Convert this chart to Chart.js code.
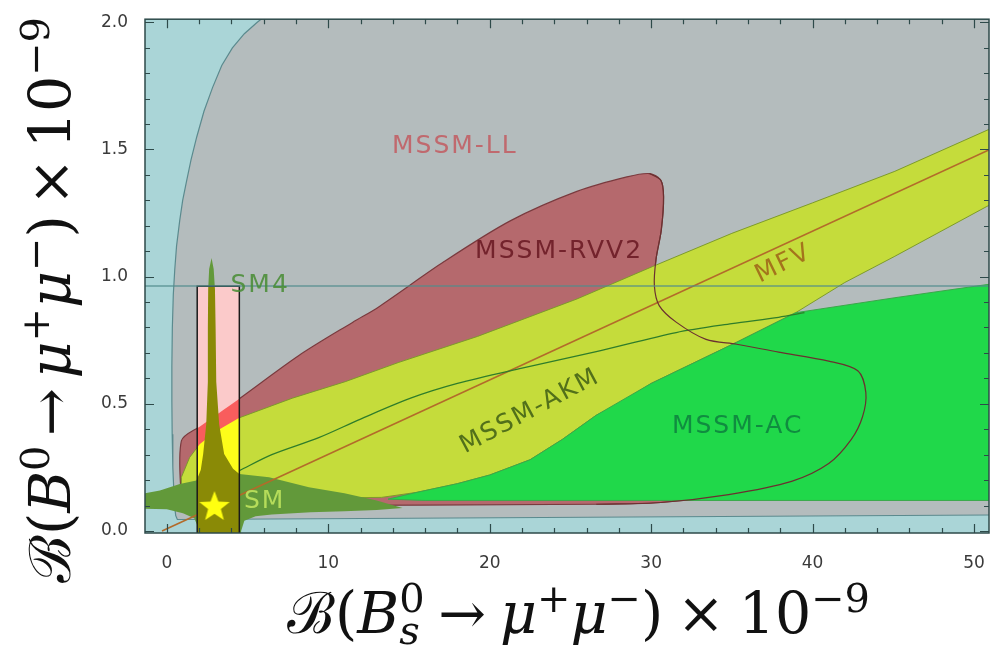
<!DOCTYPE html>
<html lang="en">
<head>
  <meta charset="UTF-8">
  <title>B0 vs Bs to mu mu</title>
  <script src="https://cdn.jsdelivr.net/npm/chart.js"></script>
  <style>
    body { margin: 0; background: #fff; }
  </style>
</head>
<body>
  <canvas id="chartCanvas" width="1006" height="648"></canvas>

  <script>
    // axis ticks
    const xMajorTicks = [0, 10, 20, 30, 40, 50];
    const yMajorTicks = [0, 0.5, 1.0, 1.5, 2.0];
    const xMinorStep = 2;
    const yMinorStep = 0.1;

    // MSSM-LL (grey) region: left boundary then closed off to the right
    const llRegion = [[7.6, 2.1], [5.6, 2.0], [4.8, 1.955], [4.06, 1.899], [3.4, 1.83], [2.83, 1.743],
      [2.3, 1.65], [1.85, 1.549], [1.5, 1.46], [1.23, 1.378], [0.98, 1.3], [0.8, 1.222], [0.6, 1.12],
      [0.49, 1.028], [0.4, 0.93], [0.34, 0.8], [0.31, 0.65], [0.31, 0.51], [0.33, 0.38], [0.37, 0.25],
      [0.43, 0.16], [0.49, 0.093], [0.55, 0.06], [0.65, 0.045], [15, 0.05], [51.5, 0.063], [51.5, 2.1], [7.6, 2.1]];

    // MSSM-RVV2 region
    const rvvUpper = [[0.9, 0.10], [0.9, 0.354], [2.03, 0.41], [4.49, 0.52], [8.18, 0.69], [11.5, 0.82],
      [13.1, 0.88], [17.2, 1.06], [21.3, 1.22], [25.4, 1.335], [28.5, 1.392], [29.9, 1.405]];
    const rvvTail = [[29.9, 1.405], [30.6, 1.379], [30.77, 1.314], [30.63, 1.184], [30.3, 1.067], [30.2, 0.964],
      [30.5, 0.886], [31.55, 0.821], [33.4, 0.753], [35.3, 0.734], [37.9, 0.703], [41.0, 0.668],
      [42.8, 0.63], [43.3, 0.545], [43.1, 0.45], [42.4, 0.36], [41.0, 0.265], [38.7, 0.195],
      [34.8, 0.143], [30.6, 0.112], [26.6, 0.105]];
    const rvvLower = [[14, 0.10], [5, 0.10], [0.9, 0.10]];

    // MSSM-AKM band
    const akmUpper = [[0.9, 0.18], [0.9, 0.211], [1.41, 0.289], [2.03, 0.341], [3, 0.39], [4.49, 0.445],
      [7.77, 0.522], [11.05, 0.587], [14.33, 0.662], [19.25, 0.765], [25.4, 0.912], [30.1, 1.04],
      [35, 1.17], [40, 1.29], [45.1, 1.414], [51.5, 1.595]];
    const akmLower = [[51.5, 1.297], [50.8, 1.276], [45.1, 1.08], [42, 0.977], [38.95, 0.858], [35.3, 0.742],
      [30, 0.58], [27.9, 0.497], [26.6, 0.455], [24.5, 0.36], [22.5, 0.28], [20, 0.22], [18, 0.186],
      [15.5, 0.152], [13.3, 0.132], [10, 0.13], [5, 0.15], [1.5, 0.17], [0.9, 0.18]];
    const akmContour = [[4.49, 0.237], [6.5, 0.300], [9.41, 0.367], [12, 0.44], [15.1, 0.522], [18, 0.58],
      [22, 0.64], [26.6, 0.705], [31.55, 0.78], [35, 0.815], [37.9, 0.84], [39.5, 0.858]];

    // MSSM-AC region
    const acUpper = [[13.7, 0.125], [15.5, 0.152], [18, 0.186], [20, 0.22], [22.5, 0.28], [24.5, 0.36],
      [26.6, 0.455], [30, 0.58], [35.3, 0.742], [38.95, 0.858], [45.1, 0.917], [51.5, 0.975]];
    const acLower = [[51.5, 0.12], [30, 0.12], [16, 0.12], [13.7, 0.125]];

    // SM region (horizontal + vertical spike)
    const smShape = [[-1.6, 0.145], [-0.43, 0.159], [0.8, 0.185], [1.83, 0.198], [2.1, 0.24], [2.25, 0.303],
      [2.44, 0.42], [2.54, 0.587], [2.54, 0.8], [2.56, 0.95], [2.62, 1.03], [2.77, 1.073], [2.9, 1.03],
      [2.98, 0.95], [3.02, 0.8], [3.06, 0.587], [3.24, 0.42], [3.55, 0.303], [4.1, 0.245], [4.49, 0.224],
      [6.33, 0.211], [8.8, 0.172], [11, 0.148], [13, 0.12], [14.6, 0.09], [13, 0.082], [11, 0.078],
      [8.9, 0.074], [6.5, 0.065], [5.5, 0.058], [4.8, 0.04], [4.6, 0.0], [4.6, -0.03], [1.9, -0.03],
      [1.9, 0.02], [1.7, 0.05], [1, 0.07], [0, 0.085], [-1.6, 0.088], [-1.6, 0.145]];

    // MFV line, SM4 box and level, SM point
    const mfvLine = [[-0.3, 0], [51.5, 1.515]];
    const sm4Box = [[1.88, -0.03], [1.88, 0.962], [4.49, 0.962], [4.49, -0.03], [1.88, -0.03]];
    const sm4Level = [[-2, 0.963], [52, 0.963]];
    const smPoint = [[2.95, 0.094]];

    const toXY = arr => arr.map(([x, y]) => ({ x, y }));
    const closeShape = (...parts) => parts.reduce((all, p) => all.concat(all.length ? p.slice(1) : p), []);

    function region(label, data, fillColor, lineColor, lineWidth, order, tension) {
      return {
        label, data: toXY(data), fill: 'shape', backgroundColor: fillColor,
        borderColor: lineColor, borderWidth: lineWidth, pointRadius: 0, tension: tension || 0, order, clip: 0
      };
    }
    function curve(label, data, color, width, order) {
      return {
        label, data: toXY(data), fill: false, borderColor: color, borderWidth: width,
        pointRadius: 0, tension: 0.3, order, clip: 0
      };
    }

    function makeStar(r, color) {
      const c = document.createElement('canvas');
      const s = Math.ceil(r * 2 + 4);
      c.width = c.height = s;
      const g = c.getContext('2d');
      g.beginPath();
      for (let i = 0; i < 10; i++) {
        const a = -Math.PI / 2 + i * Math.PI / 5;
        const rr = i % 2 ? r * 0.42 : r;
        g.lineTo(s / 2 + rr * Math.cos(a), s / 2 + rr * Math.sin(a));
      }
      g.closePath();
      g.fillStyle = color;
      g.fill();
      return c;
    }

    const rvvShape = closeShape(rvvUpper, rvvTail, rvvLower);
    const akmShape = akmUpper.concat(akmLower);
    const acShape = acUpper.concat(acLower);

    const datasets = [
      region('MSSM-LL', llRegion, '#b4bcbd', '#5b8a8e', 1.2, 30),
      region('MSSM-RVV2', rvvShape, '#b5696d', '#7a3a3e', 1.2, 29, 0.3),
      region('MSSM-AKM', akmShape, '#c5dc3b', '#7d9a2c', 1, 28),
      region('MSSM-AC', acShape, '#20d84a', '#3aa84a', 1, 27),
      region('SM', smShape, '#62993a', 'rgba(0,0,0,0)', 0, 26),
      curve('MFV', mfvLine, '#b36b2a', 1.6, 25),
      curve('AKM contour', akmContour, '#2f7d2a', 1.3, 24),
      curve('RVV2 contour', rvvTail, '#6b3030', 1.2, 23),
      Object.assign(region('SM4 box', sm4Box, '#fbcaca', 'rgba(0,0,0,0)', 0, 22), { clipStart: true }),
      region('RVV2 in box', rvvShape, '#f95d5d', 'rgba(0,0,0,0)', 0, 21, 0.3),
      region('AKM in box', akmShape, '#fdfd1a', 'rgba(0,0,0,0)', 0, 20),
      Object.assign(region('SM in box', smShape, '#8a8a06', 'rgba(0,0,0,0)', 0, 19), { clipEnd: true }),
      region('SM4 outline', sm4Box, 'rgba(0,0,0,0)', '#1a1a1a', 1.5, 18),
      Object.assign(curve('SM4 level', sm4Level, 'rgba(80,140,140,0.6)', 2, 17), { tension: 0 }),
      {
        label: 'SM point', data: toXY(smPoint), showLine: false, pointStyle: makeStar(16, '#ffff10'),
        pointRadius: 16, order: 16, clip: false
      }
    ];

    const labels = [
      { text: 'MSSM-LL', x: 17.84, y: 1.51, color: '#c0696e', rot: 0 },
      { text: 'MSSM-RVV2', x: 24.3, y: 1.097, color: '#73232c', rot: 0 },
      { text: 'SM4', x: 5.78, y: 0.967, color: 'rgba(70,140,50,0.85)', rot: 0 },
      { text: 'MFV', x: 38.2, y: 1.05, color: '#a4741c', rot: -26 },
      { text: 'MSSM-AKM', x: 22.5, y: 0.47, color: '#52701a', rot: -28 },
      { text: 'MSSM-AC', x: 35.36, y: 0.412, color: '#108c40', rot: 0 },
      { text: 'SM', x: 6.06, y: 0.116, color: '#b5dc5a', rot: 0 }
    ];

    // axis titles as rich text pieces
    const yTitleParts = [{ t: 'ℬ', cal: true }, { t: '(' }, { t: 'B', it: true }, { t: '0', pos: 'sup' }, { gap: true },
      { t: '→' }, { gap: true }, { t: 'μ', it: true }, { t: '+', pos: 'sup' }, { t: 'μ', it: true }, { t: '−', pos: 'sup' },
      { t: ')' }, { gap: true }, { t: '×' }, { gap: true }, { t: '10' }, { t: '−9', pos: 'sup' }];
    const xTitleParts = [{ t: 'ℬ', cal: true }, { t: '(' }, { t: 'B', it: true }, { t: '0', pos: 'sup' },
      { t: 's', it: true, pos: 'sub', stack: true }, { gap: true },
      { t: '→' }, { gap: true }, { t: 'μ', it: true }, { t: '+', pos: 'sup' }, { t: 'μ', it: true }, { t: '−', pos: 'sup' },
      { t: ')' }, { gap: true }, { t: '×' }, { gap: true }, { t: '10' }, { t: '−9', pos: 'sup' }];

    function fontOf(p, size) {
      const fam = p.cal ? '"Liberation Serif", "DejaVu Serif", serif' : '"DejaVu Serif", serif';
      return (p.it ? 'italic ' : '') + size.toFixed(1) + 'px ' + fam;
    }
    function layoutRich(ctx, parts, S, gap) {
      let cursor = 0, prevX = 0;
      const items = [];
      for (const p of parts) {
        if (p.gap) { cursor += gap; continue; }
        const size = p.pos ? S * 0.7 : S;
        ctx.font = fontOf(p, size);
        const w = ctx.measureText(p.t).width;
        const x0 = p.stack ? prevX : cursor;
        items.push({ p, size, x0 });
        cursor = Math.max(cursor, x0 + w);
        prevX = x0;
      }
      return { items, width: cursor };
    }
    function drawRich(ctx, parts, S, target, ox, oy, rot) {
      const nGaps = parts.filter(p => p.gap).length;
      const natural = layoutRich(ctx, parts, S, 0).width;
      const gap = Math.max(0, (target - natural) / nGaps);
      const { items } = layoutRich(ctx, parts, S, gap);
      ctx.save();
      ctx.translate(ox, oy);
      ctx.rotate(rot);
      ctx.fillStyle = '#111';
      ctx.textBaseline = 'alphabetic';
      ctx.textAlign = 'left';
      for (const it of items) {
        ctx.font = fontOf(it.p, it.size);
        const dy = it.p.pos === 'sup' ? -0.36 * S : it.p.pos === 'sub' ? 0.2 * S : 0;
        ctx.fillText(it.p.t, it.x0, dy);
      }
      ctx.restore();
    }

    const backgroundPlugin = {
      id: 'backgroundPlugin',
      beforeDraw(chart) {
        const { ctx, chartArea: a } = chart;
        ctx.save();
        ctx.fillStyle = '#ffffff';
        ctx.fillRect(0, 0, chart.width, chart.height);
        ctx.fillStyle = '#aad5d7';
        ctx.fillRect(a.left, a.top, a.right - a.left, a.bottom - a.top);
        ctx.restore();
      }
    };

    const boxClipPlugin = {
      id: 'boxClipPlugin',
      afterDatasetDraw(chart, args) {
        const ds = chart.data.datasets[args.index];
        const { ctx, scales: { x, y } } = chart;
        if (ds.clipStart) {
          const xs = sm4Box.map(p => p[0]), ys = sm4Box.map(p => p[1]);
          const l = x.getPixelForValue(Math.min(...xs)), r = x.getPixelForValue(Math.max(...xs));
          const t = y.getPixelForValue(Math.max(...ys)), b = y.getPixelForValue(Math.min(...ys));
          ctx.save();
          ctx.beginPath();
          ctx.rect(l, t, r - l, b - t);
          ctx.clip();
        }
        if (ds.clipEnd) ctx.restore();
      }
    };

    const framePlugin = {
      id: 'framePlugin',
      afterDatasetsDraw(chart) {
        const { ctx, chartArea: a, scales: { x, y } } = chart;
        ctx.save();
        ctx.strokeStyle = '#2e4a4a';
        ctx.lineWidth = 1.2;
        ctx.beginPath();
        for (let v = 0; v <= 50 + 1e-9; v += xMinorStep) {
          const px = Math.round(x.getPixelForValue(v)) + 0.5;
          const len = Math.abs(v % 10) < 1e-6 ? 9 : 5;
          ctx.moveTo(px, a.bottom); ctx.lineTo(px, a.bottom - len);
          ctx.moveTo(px, a.top); ctx.lineTo(px, a.top + len);
        }
        for (let i = 0; i <= 20; i++) {
          const v = i * yMinorStep;
          const py = Math.round(y.getPixelForValue(v)) + 0.5;
          const len = i % 5 === 0 ? 9 : 5;
          ctx.moveTo(a.left, py); ctx.lineTo(a.left + len, py);
          ctx.moveTo(a.right, py); ctx.lineTo(a.right - len, py);
        }
        ctx.stroke();
        ctx.lineWidth = 1.5;
        ctx.strokeRect(a.left, a.top, a.right - a.left, a.bottom - a.top);
        ctx.restore();

        // region labels
        ctx.save();
        ctx.font = '25px "DejaVu Sans"';
        ctx.letterSpacing = '2px';
        ctx.textAlign = 'center';
        ctx.textBaseline = 'middle';
        for (const lb of labels) {
          ctx.save();
          ctx.translate(x.getPixelForValue(lb.x), y.getPixelForValue(lb.y));
          ctx.rotate(lb.rot * Math.PI / 180);
          ctx.fillStyle = lb.color;
          ctx.fillText(lb.text, 0, 0);
          ctx.restore();
        }
        ctx.restore();
      },
      afterDraw(chart) {
        const ctx = chart.ctx;
        drawRich(ctx, yTitleParts, 57, 566, 70, 583, -Math.PI / 2);
        drawRich(ctx, xTitleParts, 57, 583, 287, 633, 0);
      }
    };

    const tickFont = { family: 'DejaVu Sans', size: 17 };

    new Chart(document.getElementById('chartCanvas').getContext('2d'), {
      type: 'line',
      data: { datasets },
      options: {
        responsive: false,
        animation: false,
        devicePixelRatio: 1,
        events: [],
        layout: { padding: { top: 14, right: 11, bottom: 0, left: 0 } },
        plugins: { legend: { display: false }, tooltip: { enabled: false } },
        scales: {
          x: {
            type: 'linear', position: 'bottom', min: -1.354, max: 50.93,
            afterBuildTicks: s => { s.ticks = xMajorTicks.map(v => ({ value: v })); },
            afterFit: s => { s.height = 115; },
            ticks: { font: tickFont, color: '#3a3a3a', padding: 12, maxRotation: 0, minRotation: 0, autoSkip: false },
            grid: { display: false }, border: { display: false }
          },
          y: {
            type: 'linear', position: 'left', min: -0.008, max: 2.012,
            afterBuildTicks: s => { s.ticks = yMajorTicks.map(v => ({ value: v })); },
            afterFit: s => { s.width = 145; },
            ticks: { font: tickFont, color: '#3a3a3a', padding: 9, callback: v => v.toFixed(1) },
            grid: { display: false }, border: { display: false }
          }
        }
      },
      plugins: [backgroundPlugin, boxClipPlugin, framePlugin]
    });
  </script>
</body>
</html>
